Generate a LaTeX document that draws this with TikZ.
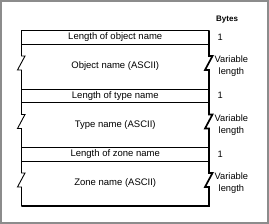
\documentclass[tikz,border=0pt]{standalone}
\usepackage{fontspec}
\setmainfont{Liberation Sans}
\usetikzlibrary{positioning}

\begin{document}
\begin{tikzpicture}[
  x=1pt,
  y=1pt,
  lenrow/.style={
    minimum width=187.5pt,
    minimum height=13.5pt,
    inner sep=0pt,
    outer sep=0pt,
    font=\fontsize{9.5}{11}\selectfont
  },
  namerow/.style={lenrow, minimum height=45pt},
  rule/.style={line width=0.9pt},
  shadow/.style={line width=1.7pt, line join=miter},
  size/.style={font=\fontsize{9.3}{12}\selectfont, align=center, inner sep=0pt},
  fieldbreak/.style={insert path={-- ++(3.5,0) -- ++(-7.5,-14) -- ++(4,0)}}
]
  \useasboundingbox (0,0) rectangle (269,-224);
  \draw[line width=2pt, black!45] (1,-1) rectangle (268,-223);

  % record fields, top to bottom
  \node[lenrow] (objlen) at (115.25,-37.25) {Length of object name};
  \node[namerow, below=0pt of objlen] (objname) {Object name (ASCII)};
  \node[lenrow, below=0pt of objname] (typelen) {Length of type name};
  \node[namerow, below=0pt of typelen] (typename) {Type name (ASCII)};
  \node[lenrow, below=0pt of typename] (zonelen) {Length of zone name};
  \node[namerow, below=0pt of zonelen] (zonename) {Zone name (ASCII)};

  \foreach \row in {objlen,typelen,zonelen} {
    \draw[rule] (\row.north west) -- (\row.north east)
      (\row.south west) -- (\row.south east);
  }

  % sides with breaks in the variable fields
  \draw[rule] (objlen.north west) -- ([yshift=-12pt]objname.north west) [fieldbreak]
    -- ([yshift=-12pt]typename.north west) [fieldbreak]
    -- ([yshift=-12pt]zonename.north west) [fieldbreak]
    -- (zonename.south west);
  \draw[shadow] (objlen.north east) -- ([yshift=-12pt]objname.north east) [fieldbreak]
    -- ([yshift=-12pt]typename.north east) [fieldbreak]
    -- ([yshift=-12pt]zonename.north east) [fieldbreak]
    -- (zonename.south east) -- (zonename.south west);

  % byte counts
  \node[font=\bfseries\fontsize{8}{10}\selectfont, inner sep=0pt,
    above right=7pt and 7pt of objlen.north east] (bytes) {Bytes};
  \node[size, right=8.5pt of objlen] (objlensize) {1};
  \node[size, right=5.5pt of objname] (objnamesize) {Variable\\length};
  \node[size, right=8.5pt of typelen] (typelensize) {1};
  \node[size, right=5.5pt of typename] (typenamesize) {Variable\\length};
  \node[size, right=8.5pt of zonelen] (zonelensize) {1};
  \node[size, right=5.5pt of zonename] (zonenamesize) {Variable\\length};
\end{tikzpicture}
\end{document}
